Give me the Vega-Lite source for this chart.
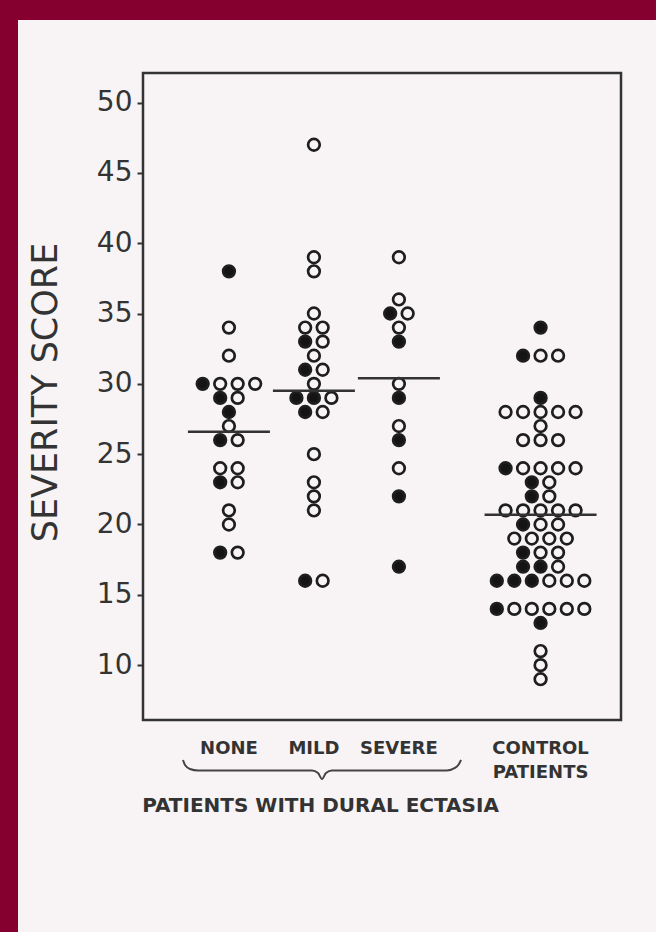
{
  "$schema": "https://vega.github.io/schema/vega-lite/v6.json",
  "width": 478,
  "height": 647,
  "autosize": {"type": "none"},
  "padding": {"left": 143, "top": 73, "right": 35, "bottom": 212},
  "background": "#f8f4f5",
  "config": {"view": {"stroke": null}, "font": "DejaVu Sans"},
  "datasets": {
    "dots": [
      {"group": "NONE", "score": 38, "fill": "filled"},
      {"group": "NONE", "score": 34, "fill": "open"},
      {"group": "NONE", "score": 32, "fill": "open"},
      {"group": "NONE", "score": 30, "fill": "filled"},
      {"group": "NONE", "score": 30, "fill": "open"},
      {"group": "NONE", "score": 30, "fill": "open"},
      {"group": "NONE", "score": 30, "fill": "open"},
      {"group": "NONE", "score": 29, "fill": "filled"},
      {"group": "NONE", "score": 29, "fill": "open"},
      {"group": "NONE", "score": 28, "fill": "filled"},
      {"group": "NONE", "score": 27, "fill": "open"},
      {"group": "NONE", "score": 26, "fill": "filled"},
      {"group": "NONE", "score": 26, "fill": "open"},
      {"group": "NONE", "score": 24, "fill": "open"},
      {"group": "NONE", "score": 24, "fill": "open"},
      {"group": "NONE", "score": 23, "fill": "filled"},
      {"group": "NONE", "score": 23, "fill": "open"},
      {"group": "NONE", "score": 21, "fill": "open"},
      {"group": "NONE", "score": 20, "fill": "open"},
      {"group": "NONE", "score": 18, "fill": "filled"},
      {"group": "NONE", "score": 18, "fill": "open"},
      {"group": "MILD", "score": 47, "fill": "open"},
      {"group": "MILD", "score": 39, "fill": "open"},
      {"group": "MILD", "score": 38, "fill": "open"},
      {"group": "MILD", "score": 35, "fill": "open"},
      {"group": "MILD", "score": 34, "fill": "open"},
      {"group": "MILD", "score": 34, "fill": "open"},
      {"group": "MILD", "score": 33, "fill": "filled"},
      {"group": "MILD", "score": 33, "fill": "open"},
      {"group": "MILD", "score": 32, "fill": "open"},
      {"group": "MILD", "score": 31, "fill": "filled"},
      {"group": "MILD", "score": 31, "fill": "open"},
      {"group": "MILD", "score": 30, "fill": "open"},
      {"group": "MILD", "score": 29, "fill": "filled"},
      {"group": "MILD", "score": 29, "fill": "filled"},
      {"group": "MILD", "score": 29, "fill": "open"},
      {"group": "MILD", "score": 28, "fill": "filled"},
      {"group": "MILD", "score": 28, "fill": "open"},
      {"group": "MILD", "score": 25, "fill": "open"},
      {"group": "MILD", "score": 23, "fill": "open"},
      {"group": "MILD", "score": 22, "fill": "open"},
      {"group": "MILD", "score": 21, "fill": "open"},
      {"group": "MILD", "score": 16, "fill": "filled"},
      {"group": "MILD", "score": 16, "fill": "open"},
      {"group": "SEVERE", "score": 39, "fill": "open"},
      {"group": "SEVERE", "score": 36, "fill": "open"},
      {"group": "SEVERE", "score": 35, "fill": "filled"},
      {"group": "SEVERE", "score": 35, "fill": "open"},
      {"group": "SEVERE", "score": 34, "fill": "open"},
      {"group": "SEVERE", "score": 33, "fill": "filled"},
      {"group": "SEVERE", "score": 30, "fill": "open"},
      {"group": "SEVERE", "score": 29, "fill": "filled"},
      {"group": "SEVERE", "score": 27, "fill": "open"},
      {"group": "SEVERE", "score": 26, "fill": "filled"},
      {"group": "SEVERE", "score": 24, "fill": "open"},
      {"group": "SEVERE", "score": 22, "fill": "filled"},
      {"group": "SEVERE", "score": 17, "fill": "filled"},
      {"group": "CONTROL", "score": 34, "fill": "filled"},
      {"group": "CONTROL", "score": 32, "fill": "filled"},
      {"group": "CONTROL", "score": 32, "fill": "open"},
      {"group": "CONTROL", "score": 32, "fill": "open"},
      {"group": "CONTROL", "score": 29, "fill": "filled"},
      {"group": "CONTROL", "score": 28, "fill": "open"},
      {"group": "CONTROL", "score": 28, "fill": "open"},
      {"group": "CONTROL", "score": 28, "fill": "open"},
      {"group": "CONTROL", "score": 28, "fill": "open"},
      {"group": "CONTROL", "score": 28, "fill": "open"},
      {"group": "CONTROL", "score": 27, "fill": "open"},
      {"group": "CONTROL", "score": 26, "fill": "open"},
      {"group": "CONTROL", "score": 26, "fill": "open"},
      {"group": "CONTROL", "score": 26, "fill": "open"},
      {"group": "CONTROL", "score": 24, "fill": "filled"},
      {"group": "CONTROL", "score": 24, "fill": "open"},
      {"group": "CONTROL", "score": 24, "fill": "open"},
      {"group": "CONTROL", "score": 24, "fill": "open"},
      {"group": "CONTROL", "score": 24, "fill": "open"},
      {"group": "CONTROL", "score": 23, "fill": "filled"},
      {"group": "CONTROL", "score": 23, "fill": "open"},
      {"group": "CONTROL", "score": 22, "fill": "filled"},
      {"group": "CONTROL", "score": 22, "fill": "open"},
      {"group": "CONTROL", "score": 21, "fill": "open"},
      {"group": "CONTROL", "score": 21, "fill": "open"},
      {"group": "CONTROL", "score": 21, "fill": "open"},
      {"group": "CONTROL", "score": 21, "fill": "open"},
      {"group": "CONTROL", "score": 21, "fill": "open"},
      {"group": "CONTROL", "score": 20, "fill": "filled"},
      {"group": "CONTROL", "score": 20, "fill": "open"},
      {"group": "CONTROL", "score": 20, "fill": "open"},
      {"group": "CONTROL", "score": 19, "fill": "open"},
      {"group": "CONTROL", "score": 19, "fill": "open"},
      {"group": "CONTROL", "score": 19, "fill": "open"},
      {"group": "CONTROL", "score": 19, "fill": "open"},
      {"group": "CONTROL", "score": 18, "fill": "filled"},
      {"group": "CONTROL", "score": 18, "fill": "open"},
      {"group": "CONTROL", "score": 18, "fill": "open"},
      {"group": "CONTROL", "score": 17, "fill": "filled"},
      {"group": "CONTROL", "score": 17, "fill": "filled"},
      {"group": "CONTROL", "score": 17, "fill": "open"},
      {"group": "CONTROL", "score": 16, "fill": "filled"},
      {"group": "CONTROL", "score": 16, "fill": "filled"},
      {"group": "CONTROL", "score": 16, "fill": "filled"},
      {"group": "CONTROL", "score": 16, "fill": "open"},
      {"group": "CONTROL", "score": 16, "fill": "open"},
      {"group": "CONTROL", "score": 16, "fill": "open"},
      {"group": "CONTROL", "score": 14, "fill": "filled"},
      {"group": "CONTROL", "score": 14, "fill": "open"},
      {"group": "CONTROL", "score": 14, "fill": "open"},
      {"group": "CONTROL", "score": 14, "fill": "open"},
      {"group": "CONTROL", "score": 14, "fill": "open"},
      {"group": "CONTROL", "score": 14, "fill": "open"},
      {"group": "CONTROL", "score": 13, "fill": "filled"},
      {"group": "CONTROL", "score": 11, "fill": "open"},
      {"group": "CONTROL", "score": 10, "fill": "open"},
      {"group": "CONTROL", "score": 9, "fill": "open"}
    ],
    "means": [
      {"group": "NONE", "mean": 26.6},
      {"group": "MILD", "mean": 29.5},
      {"group": "SEVERE", "mean": 30.4},
      {"group": "CONTROL", "mean": 20.7}
    ],
    "brace": [
      {"u": 0.0837, "v": 3.26},
      {"u": 0.0879, "v": 2.9},
      {"u": 0.0983, "v": 2.62},
      {"u": 0.1151, "v": 2.51},
      {"u": 0.3536, "v": 2.51},
      {"u": 0.3661, "v": 2.33},
      {"u": 0.3745, "v": 1.91},
      {"u": 0.3828, "v": 2.33},
      {"u": 0.3954, "v": 2.51},
      {"u": 0.636, "v": 2.51},
      {"u": 0.6527, "v": 2.69},
      {"u": 0.6611, "v": 2.97},
      {"u": 0.6653, "v": 3.26}
    ],
    "border": [
      {"x0": -0.2992, "x1": 1.0732, "y0": 55.87, "y1": 57.3},
      {"x0": -0.2992, "x1": -0.2615, "y0": -8.97, "y1": 57.3}
    ]
  },
  "layer": [
    {
      "data": {"name": "dots"},
      "transform": [
        {"window": [{"op": "row_number", "as": "k"}], "groupby": ["group", "score"], "sort": [{"field": "fill", "order": "ascending"}]},
        {"joinaggregate": [{"op": "count", "as": "n"}], "groupby": ["group", "score"]},
        {"calculate": "datum.k - (datum.n + 1) / 2", "as": "col"}
      ],
      "mark": {"type": "point", "shape": "circle", "filled": true, "size": 135, "stroke": "#1e1e1e", "strokeWidth": 2.7, "opacity": 1},
      "encoding": {
        "x": {
          "field": "group", "type": "nominal",
          "scale": {"type": "band", "domain": ["a1", "a2", "NONE", "s1", "s2", "MILD", "s3", "s4", "SEVERE", "s5", "s6", "s7", "s8", "CONTROL", "b1", "b2"], "paddingInner": 0, "paddingOuter": 0.436, "align": 0.611},
          "axis": {
            "orient": "bottom",
            "zindex": 2,
            "title": "PATIENTS WITH DURAL ECTASIA",
            "labelExpr": "datum.value == 'CONTROL' ? ['CONTROL', 'PATIENTS'] : (length(datum.value) > 3 ? datum.value : '')",
            "ticks": false, "tickSize": 0, "domain": false, "grid": false,
            "labelPadding": 19, "labelFont": "DejaVu Sans", "labelFontSize": 18, "labelFontWeight": "bold",
            "labelColor": "#333333", "labelLineHeight": 24, "labelOverlap": false, "labelAngle": 0,
            "titleX": 177, "titleY": 75, "titleBaseline": "top", "titleAlign": "center",
            "titleFont": "DejaVu Sans", "titleFontSize": 20, "titleFontWeight": "bold", "titleColor": "#333333"
          }
        },
        "xOffset": {"field": "col", "type": "quantitative", "scale": {"domain": [-0.8095, 0.8095], "nice": false, "zero": false}},
        "y": {
          "field": "score", "type": "quantitative",
          "scale": {"domain": [6.1, 52.1], "nice": false, "zero": false},
          "axis": {
            "orient": "left",
            "zindex": 2,
            "title": "SEVERITY SCORE",
            "values": [10, 15, 20, 25, 30, 35, 40, 45, 50],
            "grid": false, "domain": false,
            "tickSize": 6, "tickWidth": 2, "tickColor": "#333333",
            "labelFont": "DejaVu Sans", "labelFontSize": 28, "labelColor": "#333333", "labelPadding": 5,
            "titleAngle": -90, "titleX": -98, "titleY": 319, "titleAlign": "center", "titleBaseline": "middle",
            "titleFont": "DejaVu Sans", "titleFontSize": 35, "titleFontWeight": "normal", "titleColor": "#333333"
          }
        },
        "fill": {"field": "fill", "type": "nominal", "scale": {"domain": ["filled", "open"], "range": ["#141414", "#f8f4f5"]}, "legend": null}
      }
    },
    {
      "data": {"name": "means"},
      "mark": {"type": "tick", "thickness": 2.5, "color": "#333333", "opacity": 1},
      "encoding": {
        "x": {
          "field": "group", "type": "nominal",
          "scale": {"type": "band", "domain": ["a1", "a2", "NONE", "s1", "s2", "MILD", "s3", "s4", "SEVERE", "s5", "s6", "s7", "s8", "CONTROL", "b1", "b2"], "paddingInner": 0, "paddingOuter": 0.436, "align": 0.611},
          "axis": null
        },
        "y": {"field": "mean", "type": "quantitative", "scale": {"domain": [6.1, 52.1], "nice": false, "zero": false}, "axis": null},
        "size": {"condition": {"test": "datum.group === 'CONTROL'", "value": 112}, "value": 82}
      }
    },
    {
      "data": {"name": "brace"},
      "mark": {"type": "line", "color": "#444444", "strokeWidth": 2, "interpolate": "monotone"},
      "encoding": {
        "x": {"field": "u", "type": "quantitative", "scale": {"domain": [0, 1], "nice": false, "zero": false}, "axis": null},
        "y": {"field": "v", "type": "quantitative", "scale": {"domain": [6.1, 52.1], "nice": false, "zero": false}, "axis": null}
      }
    },
    {
      "data": {"values": [{}]},
      "mark": {"type": "rect", "fill": "#ffffff", "fillOpacity": 0, "stroke": "#333333", "strokeWidth": 2.5},
      "encoding": {
        "x": {"datum": 0, "type": "quantitative", "scale": {"domain": [0, 1], "nice": false, "zero": false}, "axis": null},
        "x2": {"datum": 1},
        "y": {"datum": 6.1, "type": "quantitative", "scale": {"domain": [6.1, 52.1], "nice": false, "zero": false}, "axis": null},
        "y2": {"datum": 52.1}
      }
    },
    {
      "data": {"name": "border"},
      "mark": {"type": "rect", "fill": "#86002f", "strokeWidth": 0},
      "encoding": {
        "x": {"field": "x0", "type": "quantitative", "scale": {"domain": [0, 1], "nice": false, "zero": false}, "axis": null},
        "x2": {"field": "x1"},
        "y": {"field": "y0", "type": "quantitative", "scale": {"domain": [6.1, 52.1], "nice": false, "zero": false}, "axis": null},
        "y2": {"field": "y1"}
      }
    }
  ],
  "resolve": {"scale": {"x": "independent", "y": "independent"}}
}
